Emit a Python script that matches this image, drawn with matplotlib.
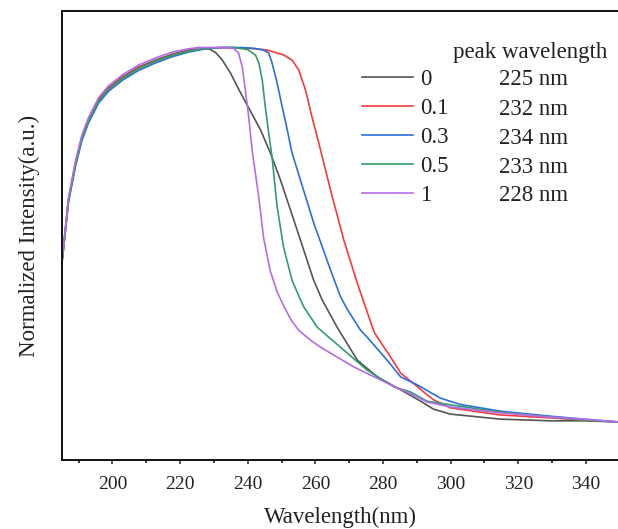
import matplotlib
matplotlib.use("Agg")
import matplotlib.pyplot as plt

# ---- data ----
series_labels = ["0", "0.1", "0.3", "0.5", "1"]
peak_labels = ["225 nm", "232 nm", "234 nm", "233 nm", "228 nm"]
colors = ["#555555", "#f53b3b", "#2a6fdb", "#2f9e6c", "#b56ce6"]

wl_0 = [185.1, 187.0, 189.1, 191.0, 192.9, 195.9, 198.8, 203.0, 207.7, 212.7, 217.7, 222.5,
        225.5, 228.5, 230.5, 232.5, 234.9, 237.8, 240.8, 243.8, 246.7, 249.7, 254.6, 259.5, 262.0,
        266.4, 272.4, 278.3, 285.2, 291.1, 294.9, 299.9, 314.7, 329.5, 339.3, 350.0]
int_0 = [0.490, 0.636, 0.724, 0.786, 0.827, 0.875, 0.903, 0.930, 0.953, 0.970, 0.984, 0.994,
         1.000, 0.997, 0.988, 0.970, 0.939, 0.893, 0.848, 0.803, 0.748, 0.683, 0.564, 0.444, 0.397,
         0.332, 0.253, 0.213, 0.182, 0.155, 0.136, 0.124, 0.112, 0.108, 0.108, 0.105]

wl_01 = [185.1, 187.0, 189.1, 191.0, 192.9, 195.9, 198.8, 203.0, 207.7, 212.7, 217.7, 222.5,
         227.0, 232.0, 238.0, 242.0, 245.7, 250.7, 253.1, 255.1, 257.1, 259.0, 261.0, 264.5,
         268.4, 272.4, 276.5, 277.5, 283.4, 285.2, 290.1, 293.0, 295.0, 299.9, 314.7, 329.5,
         339.3, 350.0]
int_01 = [0.488, 0.634, 0.722, 0.784, 0.825, 0.873, 0.901, 0.928, 0.951, 0.968, 0.982, 0.992,
          0.997, 1.000, 0.999, 0.997, 0.994, 0.982, 0.970, 0.946, 0.898, 0.834, 0.772, 0.659,
          0.540, 0.437, 0.340, 0.318, 0.246, 0.222, 0.190, 0.170, 0.158, 0.139, 0.122, 0.115,
          0.110, 0.105]

wl_03 = [185.1, 187.0, 189.1, 191.0, 192.9, 195.9, 198.8, 203.0, 207.7, 212.7, 217.7, 222.5,
         227.0, 231.0, 234.0, 238.0, 242.0, 244.6, 246.2, 247.2, 248.7, 250.2, 251.7, 253.1,
         255.6, 259.5, 264.5, 267.4, 269.4, 273.3, 275.3, 281.2, 285.2, 290.1, 297.0, 302.9,
         314.7, 329.5, 339.3, 350.0]
int_03 = [0.485, 0.630, 0.717, 0.778, 0.819, 0.867, 0.895, 0.922, 0.945, 0.963, 0.978, 0.989,
          0.996, 0.999, 1.000, 1.000, 0.998, 0.994, 0.987, 0.963, 0.915, 0.858, 0.803, 0.748,
          0.683, 0.581, 0.468, 0.405, 0.375, 0.325, 0.308, 0.253, 0.213, 0.194, 0.162, 0.147,
          0.131, 0.119, 0.112, 0.105]

wl_05 = [185.1, 187.0, 189.1, 191.0, 192.9, 195.9, 198.8, 203.0, 207.7, 212.7, 217.7, 222.5,
         227.0, 231.0, 236.0, 240.0, 242.3, 243.3, 244.3, 245.2, 246.2, 247.2, 248.7, 250.6,
         253.1, 255.6, 256.6, 260.5, 268.4, 275.3, 283.2, 288.1, 293.0, 299.9, 314.7, 329.5,
         339.3, 350.0]
int_05 = [0.487, 0.633, 0.721, 0.782, 0.823, 0.871, 0.899, 0.926, 0.949, 0.967, 0.981, 0.991,
          0.997, 1.000, 1.000, 0.995, 0.982, 0.963, 0.922, 0.858, 0.796, 0.738, 0.619, 0.523,
          0.444, 0.397, 0.380, 0.332, 0.277, 0.229, 0.189, 0.177, 0.155, 0.146, 0.129, 0.117,
          0.110, 0.105]

wl_1 = [185.1, 187.0, 189.1, 191.0, 192.9, 195.9, 198.8, 203.0, 207.7, 212.7, 217.7, 222.5,
        226.0, 229.0, 232.0, 235.8, 237.3, 238.4, 239.3, 240.3, 241.3, 243.3, 244.7, 246.7,
        248.7, 250.2, 252.6, 255.0, 258.5, 261.5, 271.3, 281.2, 290.1, 293.0, 299.9, 314.7,
        329.5, 339.3, 350.0]
int_1 = [0.492, 0.642, 0.730, 0.791, 0.832, 0.880, 0.908, 0.935, 0.958, 0.975, 0.989, 0.997,
         1.000, 1.000, 1.000, 0.998, 0.987, 0.953, 0.898, 0.834, 0.755, 0.640, 0.545, 0.465,
         0.416, 0.390, 0.352, 0.325, 0.301, 0.284, 0.237, 0.198, 0.165, 0.153, 0.141, 0.127,
         0.117, 0.112, 0.105]

wavelengths = [wl_0, wl_01, wl_03, wl_05, wl_1]
intensities = [int_0, int_01, int_03, int_05, int_1]

xticks = [200, 220, 240, 260, 280, 300, 320, 340]

# ---- figure ----
plt.rcParams['font.family'] = ['Liberation Serif', 'DejaVu Serif']
fig = plt.figure(figsize=(6.18, 5.29), dpi=100)
ax = fig.add_axes([0.0998, 0.1304, 0.9031, 0.8488])

for wl, it, c, lab in zip(wavelengths, intensities, colors, series_labels):
    ax.plot(wl, it, color=c, lw=1.2, label=lab)

ax.set_xlim(185, 350)
ax.set_ylim(0.0143, 1.0872)
ax.set_xticks(xticks)
ax.set_xticks([190, 210, 230, 250, 270, 290, 310, 330, 350], minor=True)
ax.set_yticks([])
ax.tick_params(axis='x', which='major', direction='out', length=3.2, width=1.1,
               labelsize=14, pad=8.5, colors='#222222')
ax.tick_params(axis='x', which='minor', direction='out', length=2.4, width=1.1)
for s in ax.spines.values():
    s.set_linewidth(1.4)
    s.set_color('#111111')

ax.set_xlabel("Wavelength(nm)", fontsize=16.5, labelpad=9.5, color='#222222')
ax.set_ylabel("Normalized Intensity(a.u.)", fontsize=16.5, labelpad=15.5, color='#222222')

leg = ax.legend(loc='upper left', bbox_to_anchor=(0.5375, 0.8715), frameon=False,
                fontsize=16.5, handlelength=2.25, handletextpad=0.3, labelspacing=0.35,
                borderpad=0, borderaxespad=0)
for t in leg.get_texts():
    t.set_color('#222222')

ax.text(0.7006, 0.9086, "peak wavelength", transform=ax.transAxes, fontsize=16.5,
        ha='left', va='center', color='#222222')
row_y = [0.8470, 0.7802, 0.7165, 0.6525, 0.5886]
for yy, pl in zip(row_y, peak_labels):
    ax.text(0.7836, yy, pl, transform=ax.transAxes, fontsize=16.5,
            ha='left', va='center', color='#222222')

fig.savefig("out.png", dpi=100)
